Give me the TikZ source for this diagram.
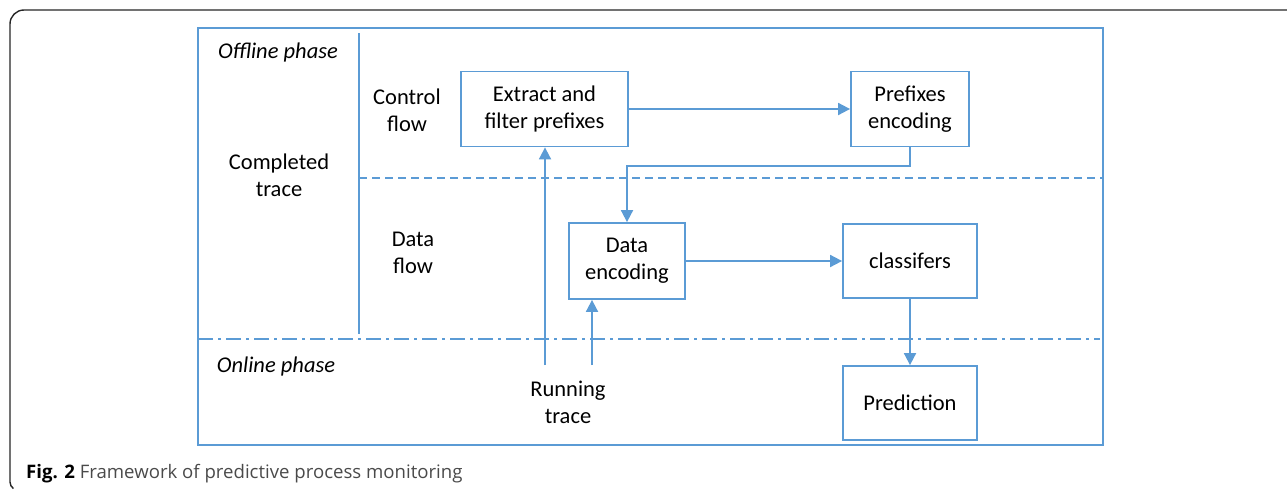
\documentclass[tikz,border=0pt]{standalone}
\usepackage{fontspec}
\setmainfont{Carlito}
\newfontfamily\capfont{Open Sans}
\usetikzlibrary{arrows.meta}
\definecolor{lblue}{HTML}{5B9BD5}
\definecolor{capgray}{HTML}{4A4A4A}
\tikzset{
  blue line/.style={draw=lblue, line width=1.8pt},
  box/.style={blue line, rectangle, inner sep=0pt, align=center,
    font=\fontsize{22.5}{27}\selectfont},
  lbl/.style={inner sep=0pt, align=center, font=\fontsize{22.5}{27}\selectfont},
  arr/.style={blue line, -{Triangle[length=12pt,width=12pt]}},
}
\begin{document}
\begin{tikzpicture}[x=1pt,y=-1pt]
\useasboundingbox (0,0) rectangle (1287,490);
% outer black frame
\draw[line width=1.4pt, draw=black!85] (1287,10) -- (24,10) arc[start angle=270,end angle=180,radius=14] -- (10,482) arc[start angle=180,end angle=125,radius=8];
% blue frame
\draw[blue line] (198,28) rectangle (1103,445);
\draw[blue line] (359,33) -- (359,334);
\draw[blue line, dash pattern=on 8pt off 5pt] (359,178) -- (1103,178);
\draw[blue line, dash pattern=on 15pt off 5pt on 3pt off 5pt] (198,339) -- (1100,339);
% labels
\node[lbl, font=\fontsize{22.5}{27}\selectfont\itshape] (off) at (278,52) {Offline phase};
\node[lbl] (comp) at (279,175) {Completed\\trace};
\node[lbl] (cf) at (407,110) {Control\\flow};
\node[lbl] (df) at (413,253) {Data\\flow};
\node[lbl, font=\fontsize{22.5}{27}\selectfont\itshape] (on) at (276,366) {Online phase};
\node[lbl] (run) at (568,402) {Running\\trace};
% boxes
\node[box, minimum width=167pt, minimum height=75pt] (ext) at (544.5,109) {Extract and\\filter prefixes};
\node[box, minimum width=118pt, minimum height=75pt] (pre) at (910,109) {Prefixes\\encoding};
\node[box, minimum width=116pt, minimum height=76pt] (denc) at (627,261) {Data\\encoding};
\node[box, minimum width=134pt, minimum height=74pt] (cls) at (910,261) {classifers};
\node[box, minimum width=134pt, minimum height=74pt] (pred) at (910,403) {Prediction};
% connectors
\coordinate (r1) at (545,365);
\coordinate (r2) at (592,365);
\draw[arr] (ext.east) -- (pre.west);
\draw[arr] (pre.south) -- (910,166) -- (627,166) -- (denc.north);
\draw[arr] (denc.east) -- (cls.west);
\draw[arr] (cls.south) -- (pred.north);
\draw[arr] (r1) -- (ext.south -| r1);
\draw[arr] (r2) -- (denc.south -| r2);
% caption
\node[anchor=base west, inner sep=0pt, font=\capfont\fontsize{18.6}{22}\selectfont] (cap) at (26,478) {\textbf{Fig. 2} \textcolor{capgray}{Framework of predictive process monitoring}};
\end{tikzpicture}
\end{document}
